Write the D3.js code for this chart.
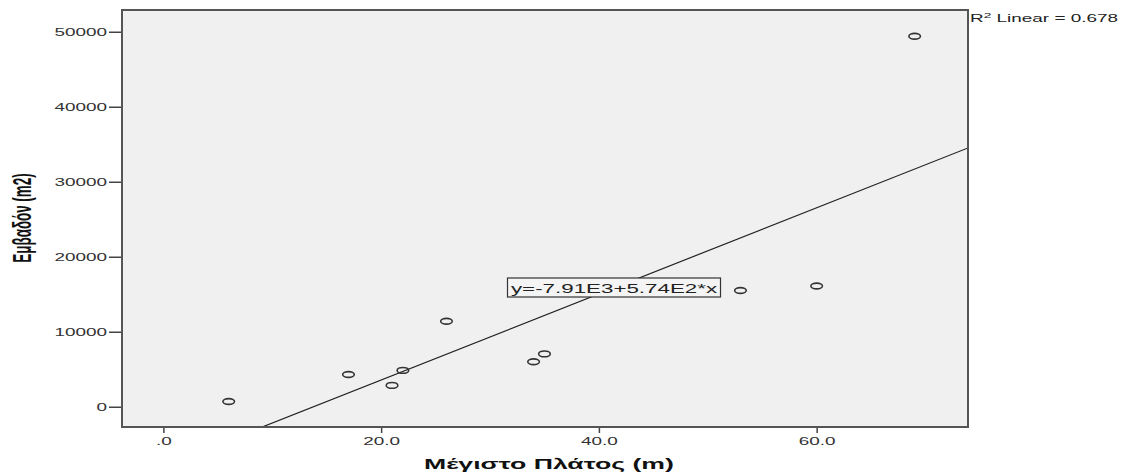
<!DOCTYPE html>
<html>
<head>
<meta charset="utf-8">
<script src="https://cdn.jsdelivr.net/npm/d3@7"></script>
<style>
  body { margin: 0; background: #fff; }
  svg { display: block; font-family: "Liberation Sans", Arial, sans-serif; }
</style>
</head>
<body>
<svg id="chart" width="1129" height="476"></svg>
<script>
// data
const widths = [6, 17, 21, 22, 26, 34, 35, 53, 60, 69];
const areas = [700, 4300, 2850, 4850, 11400, 6000, 7050, 15500, 16100, 49400];
const xTicks = [0, 20, 40, 60];
const yTicks = [0, 10000, 20000, 30000, 40000, 50000];
const intercept = -7910, slope = 574;
const r2Value = '0.678';
const eqLabel = 'y=-7.91E3+5.74E2*x';
const xTitle = 'Μέγιστο Πλάτος (m)';
const yTitle = 'Εμβαδόν (m2)';

const sx = 1.72; // the original is stretched sideways

const margin = { top: 10, right: 161, bottom: 49, left: 122 },
  width = 1129 - margin.left - margin.right,
  height = 476 - margin.top - margin.bottom;

const svg = d3.select('#chart');
const chart = svg.append('g').attr('transform', 'translate(' + margin.left + ',' + margin.top + ')');

const x = d3.scaleLinear().domain([-3.8, 73.9]).range([0, width]);
const y = d3.scaleLinear().domain([-2700, 52900]).range([height, 0]);

chart.append('rect').
  attr('width', width).attr('height', height).
  attr('fill', '#f0f0f0');

svg.append('defs').append('clipPath').attr('id', 'plot-clip').
  append('rect').attr('width', width).attr('height', height);

// axes
const xAxis = d3.axisBottom(x).tickValues(xTicks).tickSize(6).tickPadding(4).
  tickFormat(function(d) { return d === 0 ? '.0' : d.toFixed(1); });
const gx = chart.append('g').attr('transform', 'translate(0,' + height + ')').call(xAxis);
gx.select('.domain').remove();
gx.selectAll('line').attr('stroke', '#444').attr('stroke-width', 1.5);
gx.selectAll('text').
  attr('x', null).attr('y', null).attr('dy', null).
  attr('transform', 'translate(0,18) scale(' + sx + ',1)').
  attr('fill', '#333').style('font-size', '11px');

const yAxis = d3.axisLeft(y).tickValues(yTicks).tickSize(13).
  tickFormat(d3.format('d'));
const gy = chart.append('g').call(yAxis);
gy.select('.domain').remove();
gy.selectAll('line').attr('stroke', '#444').attr('stroke-width', 1.5);
gy.selectAll('text').
  attr('x', null).attr('dy', null).
  attr('transform', 'translate(-15,4) scale(' + sx + ',1)').
  attr('fill', '#333').style('font-size', '11px');

// regression line
const xd = x.domain();
chart.append('line').
  attr('clip-path', 'url(#plot-clip)').
  attr('x1', x(xd[0])).attr('y1', y(intercept + slope * xd[0])).
  attr('x2', x(xd[1])).attr('y2', y(intercept + slope * xd[1])).
  attr('stroke', '#222').attr('stroke-width', 1.2);

// points
chart.selectAll('.pt').
  data(widths).
  enter().append('ellipse').
    attr('class', 'pt').
    attr('cx', function(d) { return x(d); }).
    attr('cy', function(d, i) { return y(areas[i]); }).
    attr('rx', 5.8).attr('ry', 2.9).
    attr('fill', 'none').attr('stroke', '#333').attr('stroke-width', 1.6);

// equation label box
const eq = chart.append('g').attr('transform', 'translate(' + (614 - margin.left) + ',' + (287.5 - margin.top) + ')');
eq.append('rect').
  attr('x', -106.5).attr('y', -9.5).attr('width', 213).attr('height', 19).
  attr('fill', '#f4f4f4').attr('stroke', '#333').attr('stroke-width', 1.2);
eq.append('text').
  attr('transform', 'translate(0,5) scale(' + sx + ',1)').
  attr('text-anchor', 'middle').
  style('font-size', '13px').attr('fill', '#222').
  text(eqLabel);

// frame
chart.append('rect').
  attr('width', width).attr('height', height).
  attr('fill', 'none').attr('stroke', '#555').attr('stroke-width', 2);

// texts outside the plot
const r2 = svg.append('text').
  attr('transform', 'translate(970,22) scale(' + sx + ',1)').
  style('font-size', '11px').attr('fill', '#222');
r2.append('tspan').text('R');
r2.append('tspan').attr('dy', -4).style('font-size', '8px').text('2');
r2.append('tspan').attr('dy', 4).text(' Linear = ' + r2Value);

svg.append('text').
  attr('transform', 'translate(549,469) scale(' + sx + ',1)').
  attr('text-anchor', 'middle').
  style('font-size', '15.5px').style('font-weight', 'bold').attr('fill', '#111').
  text(xTitle);

svg.append('text').
  attr('transform', 'translate(31,218) scale(1.9,1) rotate(-90)').
  attr('text-anchor', 'middle').
  style('font-size', '13.4px').style('font-weight', 'bold').attr('fill', '#111').
  text(yTitle);
</script>
</body>
</html>
